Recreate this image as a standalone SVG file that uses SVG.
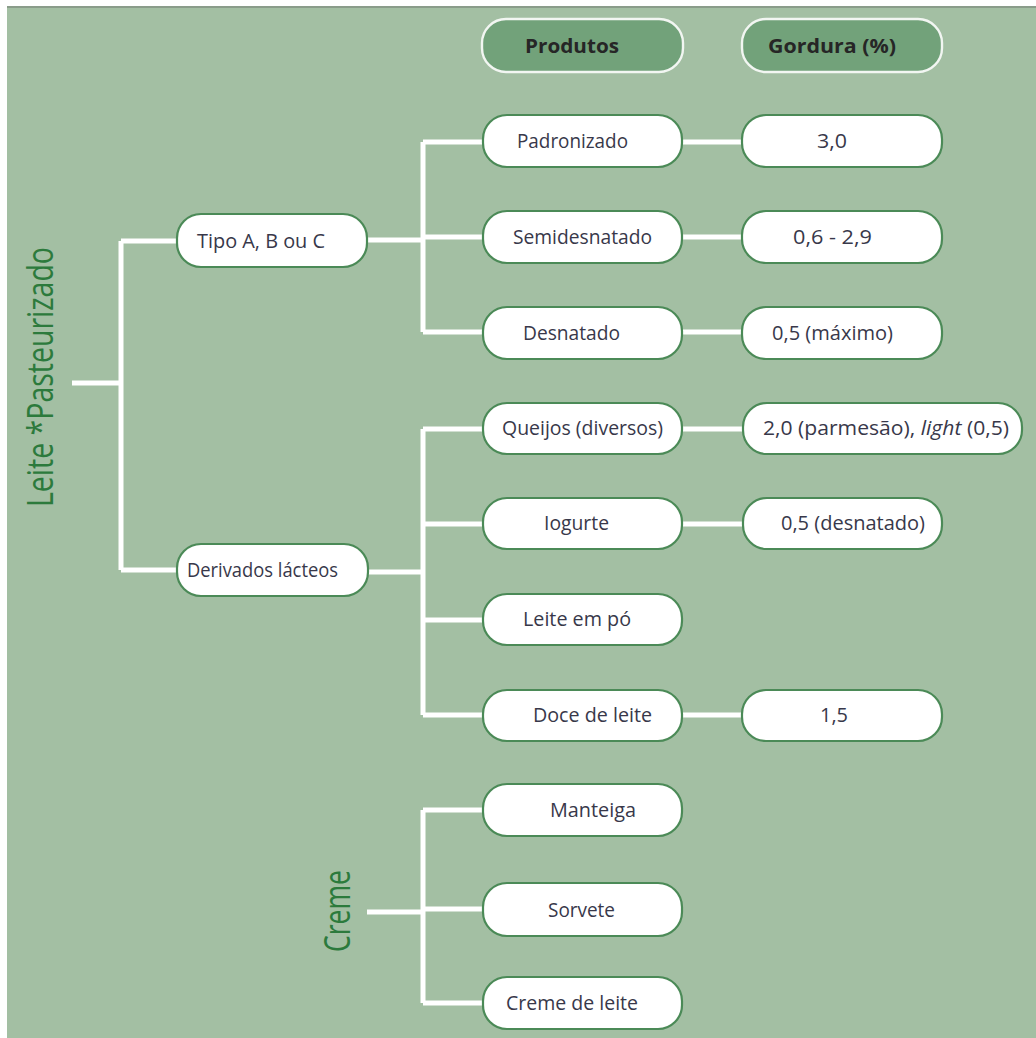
<svg xmlns="http://www.w3.org/2000/svg" width="1036" height="1038" viewBox="0 0 1036 1038">
  <style>
    .box { fill: #ffffff; stroke: #4b8a57; stroke-width: 2.2; }
    .head { fill: #72a27a; stroke: #f2f6f2; stroke-width: 2.4; }
    .lbl { font-family: "Open Sans", "Liberation Sans", sans-serif; font-size: 20px; fill: #38384a; }
    .hdr { font-family: "Open Sans", "Liberation Sans", sans-serif; font-size: 20px; font-weight: bold; fill: #262626; }
    .side { font-family: "Open Sans", "Liberation Sans", sans-serif; font-size: 36px; fill: #2c7a3c; }
    .wire { fill: none; stroke: #ffffff; stroke-width: 5; }
  </style>

  <!-- page and panel -->
  <rect x="0" y="0" width="1036" height="1038" fill="#ffffff"/>
  <rect x="7" y="6" width="1029" height="1032" fill="#a3bfa3"/>
  <rect x="7" y="6" width="1029" height="2" fill="#8a9c8a"/>

  <!-- connectors -->
  <g id="connectors" class="wire">
    <path d="M72 383 H121 M121 241 V570 M121 241 H177 M121 570 H177"/>
    <path d="M367 240 H423 M423 142 V332 M423 142 H483 M423 237 H483 M423 332 H483"/>
    <path d="M368 572 H423 M423 429 V715 M423 429 H483 M423 524 H483 M423 620 H483 M423 715 H483"/>
    <path d="M367 912 H423 M423 810 V1003 M423 810 H483 M423 909 H483 M423 1003 H483"/>
    <path d="M682 142 H742 M682 237 H742 M682 332 H742 M682 429 H742 M682 524 H742 M682 715 H742"/>
  </g>

  <!-- side titles -->
  <g id="title-leite">
    <text class="side" transform="translate(53,507) rotate(-90)" textLength="260" lengthAdjust="spacingAndGlyphs">Leite  *Pasteurizado</text>
  </g>
  <g id="title-creme">
    <text class="side" transform="translate(350,952) rotate(-90)" textLength="82" lengthAdjust="spacingAndGlyphs">Creme</text>
  </g>

  <!-- column headers -->
  <g id="header-produtos">
    <rect class="head" x="482" y="19" width="201" height="53" rx="24"/>
    <text class="hdr" x="525" y="53" textLength="94" lengthAdjust="spacingAndGlyphs">Produtos</text>
  </g>
  <g id="header-gordura">
    <rect class="head" x="742" y="19" width="200" height="53" rx="24"/>
    <text class="hdr" x="768" y="53" textLength="128" lengthAdjust="spacingAndGlyphs">Gordura (%)</text>
  </g>

  <!-- categories -->
  <g id="tipo-abc">
    <rect class="box" x="177" y="214" width="190" height="53" rx="24"/>
    <text class="lbl" x="197" y="248" textLength="128" lengthAdjust="spacingAndGlyphs">Tipo A, B ou C</text>
  </g>
  <g id="derivados">
    <rect class="box" x="177" y="544" width="191" height="52" rx="24"/>
    <text class="lbl" x="187" y="577" textLength="151" lengthAdjust="spacingAndGlyphs">Derivados lácteos</text>
  </g>

  <!-- products -->
  <g id="padronizado">
    <rect class="box" x="483" y="115" width="199" height="52" rx="24"/>
    <text class="lbl" x="517" y="148" textLength="111" lengthAdjust="spacingAndGlyphs">Padronizado</text>
  </g>
  <g id="semidesnatado">
    <rect class="box" x="483" y="211" width="199" height="52" rx="24"/>
    <text class="lbl" x="513" y="244" textLength="139" lengthAdjust="spacingAndGlyphs">Semidesnatado</text>
  </g>
  <g id="desnatado">
    <rect class="box" x="483" y="307" width="199" height="52" rx="24"/>
    <text class="lbl" x="523" y="340" textLength="97" lengthAdjust="spacingAndGlyphs">Desnatado</text>
  </g>
  <g id="queijos">
    <rect class="box" x="483" y="403" width="199" height="51" rx="24"/>
    <text class="lbl" x="502" y="435" textLength="161" lengthAdjust="spacingAndGlyphs">Queijos (diversos)</text>
  </g>
  <g id="iogurte">
    <rect class="box" x="483" y="498" width="199" height="51" rx="24"/>
    <text class="lbl" x="544" y="530" textLength="65" lengthAdjust="spacingAndGlyphs">Iogurte</text>
  </g>
  <g id="leite-em-po">
    <rect class="box" x="483" y="594" width="199" height="51" rx="24"/>
    <text class="lbl" x="523" y="626" textLength="108" lengthAdjust="spacingAndGlyphs">Leite em pó</text>
  </g>
  <g id="doce-de-leite">
    <rect class="box" x="483" y="690" width="199" height="51" rx="24"/>
    <text class="lbl" x="533" y="722" textLength="119" lengthAdjust="spacingAndGlyphs">Doce de leite</text>
  </g>
  <g id="manteiga">
    <rect class="box" x="483" y="784" width="199" height="52" rx="24"/>
    <text class="lbl" x="550" y="817" textLength="86" lengthAdjust="spacingAndGlyphs">Manteiga</text>
  </g>
  <g id="sorvete">
    <rect class="box" x="483" y="883" width="199" height="53" rx="24"/>
    <text class="lbl" x="548" y="917" textLength="67" lengthAdjust="spacingAndGlyphs">Sorvete</text>
  </g>
  <g id="creme-de-leite">
    <rect class="box" x="483" y="977" width="199" height="52" rx="24"/>
    <text class="lbl" x="506" y="1010" textLength="132" lengthAdjust="spacingAndGlyphs">Creme de leite</text>
  </g>

  <!-- fat content -->
  <g id="fat-padronizado">
    <rect class="box" x="742" y="115" width="200" height="52" rx="24"/>
    <text class="lbl" x="817" y="148" textLength="30" lengthAdjust="spacingAndGlyphs">3,0</text>
  </g>
  <g id="fat-semidesnatado">
    <rect class="box" x="742" y="211" width="200" height="52" rx="24"/>
    <text class="lbl" x="793" y="244" textLength="79" lengthAdjust="spacingAndGlyphs">0,6 - 2,9</text>
  </g>
  <g id="fat-desnatado">
    <rect class="box" x="742" y="307" width="200" height="52" rx="24"/>
    <text class="lbl" x="772" y="340" textLength="121" lengthAdjust="spacingAndGlyphs">0,5 (máximo)</text>
  </g>
  <g id="fat-queijos">
    <rect class="box" x="743" y="403" width="279" height="51" rx="24"/>
    <text class="lbl" x="763" y="435" textLength="246" lengthAdjust="spacingAndGlyphs">2,0 (parmesão), <tspan font-style="italic">light</tspan> (0,5)</text>
  </g>
  <g id="fat-iogurte">
    <rect class="box" x="743" y="498" width="199" height="51" rx="24"/>
    <text class="lbl" x="781" y="530" textLength="144" lengthAdjust="spacingAndGlyphs">0,5 (desnatado)</text>
  </g>
  <g id="fat-doce">
    <rect class="box" x="742" y="690" width="200" height="51" rx="24"/>
    <text class="lbl" x="820" y="722" textLength="28" lengthAdjust="spacingAndGlyphs">1,5</text>
  </g>
</svg>
